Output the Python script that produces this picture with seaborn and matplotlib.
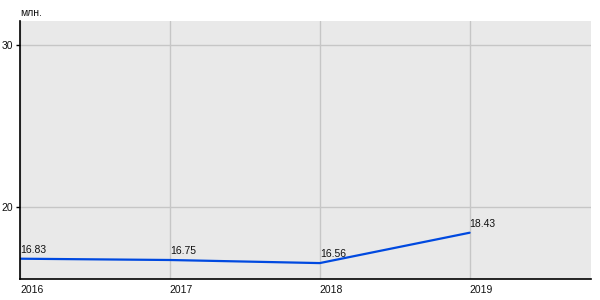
import matplotlib
matplotlib.use("Agg")
import matplotlib.pyplot as plt
import seaborn as sns
import pandas as pd

years = [2016, 2017, 2018, 2019]
values = [16.83, 16.75, 16.56, 18.43]
value_labels = ["16.83", "16.75", "16.56", "18.43"]
y_ticks = [20, 30]
unit_label = "млн."

sns.set_theme(style="white")
plt.rcParams['font.family'] = ['Liberation Sans', 'DejaVu Sans']

df = pd.DataFrame({"year": years, "value": values})

fig = plt.figure(figsize=(6, 3), dpi=100)
ax = fig.add_axes([20/600, 21/300, 571/600, 258/300])
ax.set_facecolor("#e9e9e9")

sns.lineplot(data=df, x="year", y="value", ax=ax, color="#0049e0", linewidth=1.6)

ax.set_xlim(2016, 2019.81)
ax.set_ylim(15.58, 31.47)
ax.set_xticks(years)
ax.set_yticks(y_ticks)
ax.grid(True, color="#c6c6c6", linewidth=1)
ax.set_axisbelow(True)

for s in ["top", "right"]:
    ax.spines[s].set_visible(False)
for s in ["left", "bottom"]:
    ax.spines[s].set_color("black")
    ax.spines[s].set_linewidth(1.2)

ax.tick_params(axis="y", length=3, width=1, color="black", labelsize=7.5, pad=2,
               direction="out", left=True, labelcolor="#111111")
ax.tick_params(axis="x", length=0, labelsize=7.5, pad=4, labelcolor="#111111")
for lbl in ax.get_xticklabels():
    lbl.set_horizontalalignment("left")
ax.set_xlabel("")
ax.set_ylabel("")

for x, y, t in zip(years, values, value_labels):
    ax.annotate(t, (x, y), xytext=(0, 3), textcoords="offset points",
                ha="left", va="bottom", fontsize=7.5, color="#111111")

fig.text(20/600, 1 - 13/300, unit_label, fontsize=7.5, ha="left", va="center", color="#111111")

fig.savefig("out.png", dpi=100)
